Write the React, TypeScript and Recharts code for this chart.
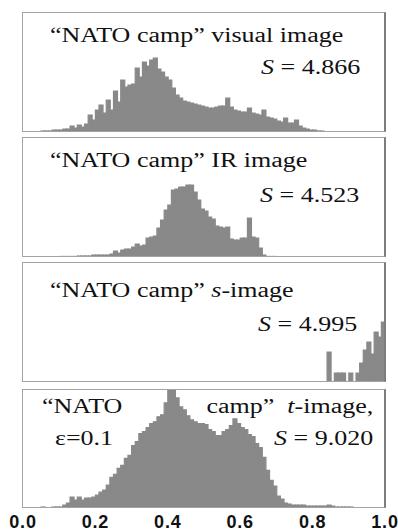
import React from 'react';
import { BarChart, Bar, XAxis, YAxis } from 'recharts';

// histogram heights, 100 bins over [0, 1]
const VISUAL = [
  0, 0, 0, 0, 0, 1, 1, 1, 2, 2,
  2, 3, 3, 6, 4, 7, 5, 8, 17, 12,
  22, 27, 19, 32, 22, 41, 30, 52, 45, 47,
  48, 64, 55, 70, 66, 72, 74, 63, 60, 55,
  52, 44, 37, 34, 31, 30, 29, 28, 27, 26,
  25, 24, 24, 25, 26, 26, 34, 25, 22, 21,
  20, 20, 24, 19, 18, 17, 22, 15, 14, 13,
  11, 10, 14, 9, 9, 12, 6, 4, 3, 2,
  2, 1, 1, 0, 0, 0, 0, 0, 0, 0,
  0, 0, 0, 0, 0, 0, 0, 0, 0, 0,
];

const IR = [
  0, 0, 0, 0, 0, 0, 0, 0, 0, 0,
  0.5, 0.5, 0.5, 0.5, 0.5, 1, 1, 1, 1, 2,
  2, 2, 2, 2, 3, 6, 4, 7, 8, 8,
  10, 13, 11, 12, 19, 20, 21, 29, 37, 47,
  52, 67, 68, 70, 70, 72, 72, 65, 57, 48,
  46, 40, 38, 31, 30, 29, 30, 18, 17, 17,
  19, 19, 39, 20, 19, 9, 2, 0.5, 0.5, 0.5,
  0, 0, 0, 0, 0, 0, 0, 0, 0, 0,
  0, 0, 0, 0, 0, 0, 0, 0, 0, 0,
  0, 0, 0, 0, 0, 0, 0, 0, 0, 0,
];

const S_IMAGE = [
  0, 0, 0, 0, 0, 0, 0, 0, 0, 0,
  0, 0, 0, 0, 0, 0, 0, 0, 0, 0,
  0, 0, 0, 0, 0, 0, 0, 0, 0, 0,
  0, 0, 0, 0, 0, 0, 0, 0, 0, 0,
  0, 0, 0, 0, 0, 0, 0, 0, 0, 0,
  0, 0, 0, 0, 0, 0, 0, 0, 0, 0,
  0, 0, 0, 0, 0, 0, 0, 0, 0, 0,
  0, 0, 0, 0, 0, 0, 0, 0, 0, 0,
  0, 0, 0, 0, 30, 0, 9, 9, 9, 0,
  9, 0, 9, 19, 32, 40, 28, 50, 45, 60,
];

const T_IMAGE = [
  0, 0, 0, 0, 0, 1, 0, 0, 1, 1,
  1, 3, 5, 11, 8, 11, 8, 10, 10, 11,
  13, 16, 18, 23, 31, 34, 40, 43, 50, 53,
  63, 67, 75, 77, 81, 85, 87, 92, 94, 106,
  122, 124, 111, 102, 99, 93, 89, 87, 85, 85,
  84, 79, 77, 73, 73, 77, 79, 83, 90, 85,
  81, 79, 74, 72, 65, 61, 51, 38, 28, 22,
  12, 9, 5, 4, 3, 3, 3, 3, 2, 2,
  2, 2, 2, 2, 3, 2, 1, 1, 1, 1,
  1, 0, 0, 0, 0, 0, 0, 0, 0, 0,
];

const BIN_CENTERS = VISUAL.map((_, i) => (i + 0.5) / 100);
const X_TICKS = [0, 0.2, 0.4, 0.6, 0.8, 1.0];
const MINOR_TICKS = [0.05, 0.1, 0.15, 0.2, 0.25, 0.3, 0.35, 0.4, 0.45, 0.5, 0.55, 0.6, 0.65, 0.7, 0.75, 0.8, 0.85, 0.9, 0.95];

const BAR_COLOR = '#898989';
const SERIF = '"Liberation Serif", "Times New Roman", serif';

const textStyle: React.CSSProperties = {
  position: 'absolute',
  fontFamily: SERIF,
  fontSize: 20,
  lineHeight: '20px',
  color: '#111',
  whiteSpace: 'pre',
};

function Left({ x, y, children }: { x: number; y: number; children: React.ReactNode }) {
  return (
    <div style={{ ...textStyle, left: x, top: y, transform: 'scaleX(1.3)', transformOrigin: 'left' }}>
      {children}
    </div>
  );
}

function Right({ x, y, children }: { x: number; y: number; children: React.ReactNode }) {
  return (
    <div style={{ ...textStyle, right: 398 - x, top: y, transform: 'scaleX(1.3)', transformOrigin: 'right' }}>
      {children}
    </div>
  );
}

function Panel({ top, height, values, labels }: { top: number; height: number; values: number[]; labels?: boolean }) {
  const data = values.map((v, i) => ({ x: BIN_CENTERS[i], v }));
  const chartHeight = labels ? height + 25 : height;
  return (
    <div style={{ position: 'absolute', left: 0, top, width: 398, height: chartHeight }}>
      <BarChart
        width={398}
        height={chartHeight}
        data={data}
        margin={{ top: 0, right: 13, bottom: 0, left: 23 }}
        barCategoryGap={0}
        barGap={0}
      >
        <XAxis
          xAxisId="minor"
          dataKey="x"
          type="number"
          domain={[0, 1]}
          ticks={MINOR_TICKS}
          interval={0}
          mirror
          tick={false}
          axisLine={false}
          tickSize={3}
          tickLine={{ stroke: '#777' }}
          height={0}
          allowDataOverflow
        />
        {labels && (
          <XAxis
            xAxisId="main"
            dataKey="x"
            type="number"
            domain={[0, 1]}
            ticks={X_TICKS}
            interval={0}
            tickFormatter={(v: number) => v.toFixed(1)}
            axisLine={false}
            tickLine={false}
            tickSize={6}
            tickMargin={1}
            height={25}
            allowDataOverflow
            tick={{
              fontFamily: '"Liberation Sans", Arial, sans-serif',
              fontWeight: 700,
              fontSize: 18,
              fill: '#111',
              letterSpacing: 0.8,
            }}
          />
        )}
        <YAxis hide domain={[0, 120]} allowDataOverflow />
        <Bar
          dataKey="v"
          xAxisId="minor"
          fill={BAR_COLOR}
          stroke={BAR_COLOR}
          strokeWidth={1.2}
          isAnimationActive={false}
        />
      </BarChart>
      <div
        style={{
          position: 'absolute',
          left: 22,
          top: 0,
          width: 364,
          height,
          boxSizing: 'border-box',
          border: '1px solid #a3a3a3',
          borderRight: '2px solid #7d7d7d',
          pointerEvents: 'none',
        }}
      />
    </div>
  );
}

export default function App() {
  return (
    <div style={{ position: 'absolute', left: 0, top: 0, width: 398, height: 532, background: '#fff', overflow: 'hidden' }}>
      <Panel top={12} height={120} values={VISUAL} />
      <Panel top={137} height={120} values={IR} />
      <Panel top={262} height={120} values={S_IMAGE} />
      <Panel top={389} height={119} values={T_IMAGE} labels />

      <Left x={50} y={25}>“NATO camp” visual image</Left>
      <Right x={360} y={57}><i>S</i> = 4.866</Right>

      <Left x={50} y={150}>“NATO camp” IR image</Left>
      <Right x={359} y={185}><i>S</i> = 4.523</Right>

      <Left x={50} y={280}>“NATO camp” <i>s</i>-image</Left>
      <Right x={357} y={314}><i>S</i> = 4.995</Right>

      <Left x={42} y={396}>“NATO</Left>
      <Right x={373} y={396}>camp”  <i>t</i>-image,</Right>
      <Left x={55} y={428}>ε=0.1</Left>
      <Right x={373} y={428}><i>S</i> = 9.020</Right>
    </div>
  );
}
